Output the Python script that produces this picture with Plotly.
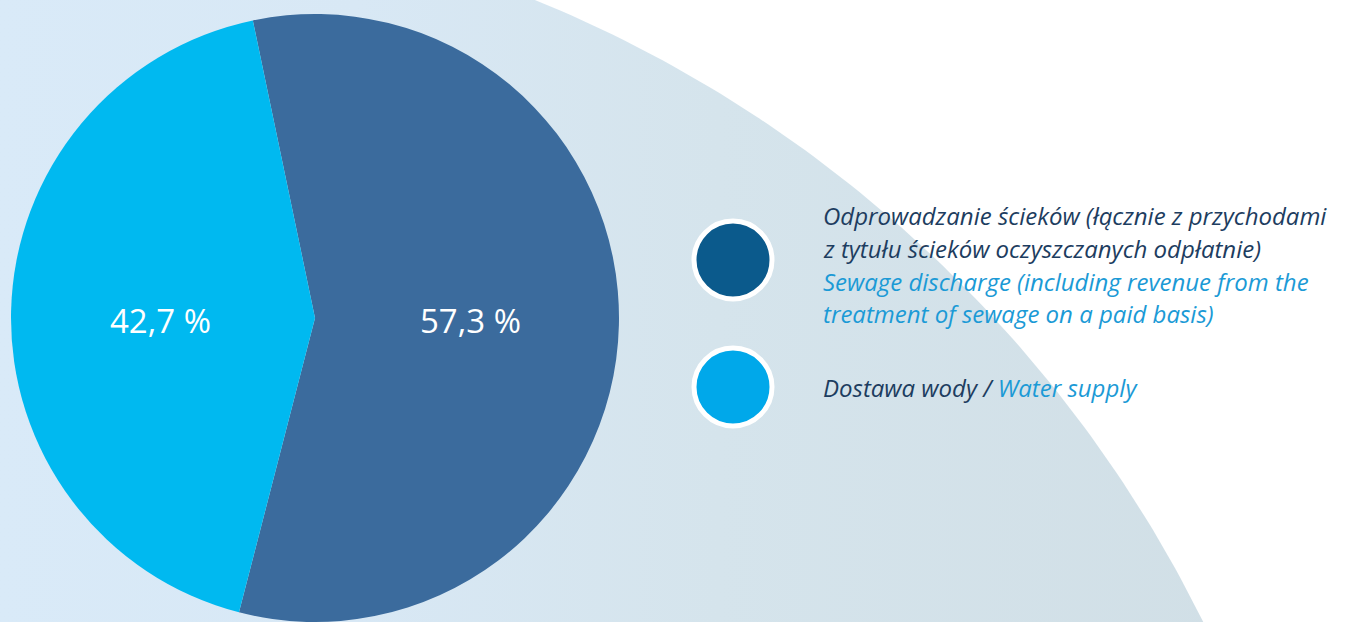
import numpy as np
import plotly.graph_objects as go

# Revenue structure by activity (percent)
labels_pl = ["Odprowadzanie ścieków (łącznie z przychodami z tytułu ścieków oczyszczanych odpłatnie)",
             "Dostawa wody"]
labels_en = ["Sewage discharge (including revenue from the treatment of sewage on a paid basis)",
             "Water supply"]
shares = [57.3, 42.7]

slice_colors = ["#3b6b9d", "#00b9f0"]
legend_colors = ["#0b5a8c", "#00a8ea"]
dark_text = "#1d3d60"
light_text = "#1b9ad6"

W, H = 1346, 622
FONT = "Open Sans"

# Pie geometry (pixels)
cx, cy, r = 315, 318, 304
rotation = -11.8

fig = go.Figure()

# Pale water-tinted backdrop: a large disc reaching in from the lower left
t = np.linspace(0, 2 * np.pi, 721)
bx = 47 + 1290 * np.cos(t)
by = 1194 + 1290 * np.sin(t)
fig.add_trace(go.Scatter(
    x=bx, y=by, mode="lines", line=dict(width=0), fill="toself",
    fillgradient=dict(type="horizontal",
                      colorscale=[[0, "#d9eaf8"], [0.48, "#d9eaf8"], [0.62, "#d8e8f5"],
                                  [0.76, "#d5e4ec"], [1, "#d0dee5"]]),
    hoverinfo="skip", showlegend=False))

# Legend swatches
leg_y = [260, 387]
fig.add_trace(go.Scatter(
    x=[733, 733], y=leg_y, mode="markers",
    marker=dict(size=78, color=legend_colors, line=dict(color="white", width=5)),
    hoverinfo="skip", showlegend=False))

fig.add_trace(go.Pie(
    labels=labels_en, values=shares, sort=False, direction="clockwise",
    rotation=rotation, marker=dict(colors=slice_colors, line=dict(width=0)),
    textinfo="none", hoverinfo="label+percent", showlegend=False,
    domain=dict(x=[(cx - r) / W, (cx + r) / W], y=[1 - (cy + r) / H, 1 - (cy - r) / H])))

annotations = []

# Percentage labels: horizontally offset along each slice's middle angle, on the centre line
start = rotation
total = sum(shares)
for v in shares:
    span = 360 * v / total
    mid = np.radians(start + span / 2)
    start += span
    px = cx + 0.51 * r * np.sin(mid)
    annotations.append(dict(
        x=px, y=cy + 2, xref="x", yref="y", text=f"{v:.1f}".replace(".", ",") + " %",
        showarrow=False, xanchor="center", yanchor="middle",
        font=dict(family=FONT, size=33, color="white")))

# Legend text, one line per annotation
legend_lines = [
    ("Odprowadzanie ścieków (łącznie z przychodami", dark_text, 215),
    ("z tytułu ścieków oczyszczanych odpłatnie)", dark_text, 248),
    ("Sewage discharge (including revenue from the", light_text, 281),
    ("treatment of sewage on a paid basis)", light_text, 313),
]
for txt, col, y in legend_lines:
    annotations.append(dict(
        x=821, y=y, xref="x", yref="y", text=f"<i>{txt}</i>", showarrow=False,
        xanchor="left", yanchor="middle", font=dict(family=FONT, size=24, color=col)))
annotations.append(dict(
    x=821, y=387, xref="x", yref="y",
    text=f"<i>Dostawa wody / <span style='color:{light_text}'>Water supply</span></i>",
    showarrow=False, xanchor="left", yanchor="middle",
    font=dict(family=FONT, size=24, color=dark_text)))

fig.update_layout(
    width=W, height=H, margin=dict(l=0, r=0, t=0, b=0),
    paper_bgcolor="white", plot_bgcolor="rgba(0,0,0,0)",
    xaxis=dict(range=[0, W], visible=False, fixedrange=True, domain=[0, 1]),
    yaxis=dict(range=[H, 0], visible=False, fixedrange=True, domain=[0, 1]),
    annotations=annotations, showlegend=False)

fig.write_html("out.html", config={"displayModeBar": False})
